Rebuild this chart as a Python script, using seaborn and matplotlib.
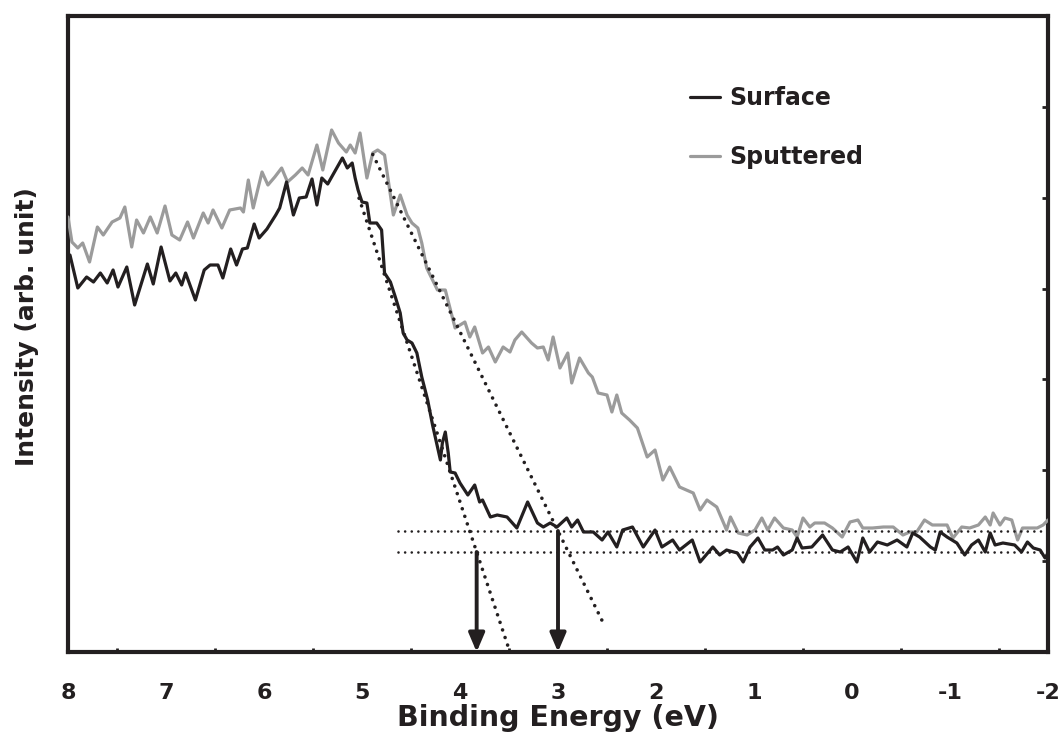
import numpy as np
import pandas as pd
import matplotlib
matplotlib.use("Agg")
import matplotlib.pyplot as plt
import seaborn as sns

# ---------------------------------------------------------------------------
# Valence-band spectra: binding energy (eV) and intensity (counts, arb. unit)
# ---------------------------------------------------------------------------
surface_be = [8.00, 7.98, 7.90, 7.81, 7.74, 7.67, 7.60, 7.54, 7.49, 7.40,
              7.32, 7.19, 7.13, 7.05, 6.96, 6.90, 6.84, 6.80, 6.70, 6.61,
              6.55, 6.47, 6.42, 6.34, 6.28, 6.22, 6.17, 6.10, 6.05, 5.97,
              5.88, 5.84, 5.77, 5.70, 5.64, 5.57, 5.51, 5.46, 5.41, 5.35,
              5.20, 5.15, 5.10, 5.07, 5.04, 5.00, 4.95, 4.92, 4.85, 4.80,
              4.77, 4.71, 4.66, 4.61, 4.58, 4.54, 4.49, 4.44, 4.39, 4.33,
              4.28, 4.23, 4.20, 4.18, 4.15, 4.12, 4.10, 4.05, 4.00, 3.92,
              3.85, 3.80, 3.77, 3.69, 3.62, 3.52, 3.42, 3.31, 3.21, 3.15,
              3.08, 3.01, 2.91, 2.86, 2.80, 2.74, 2.64, 2.55, 2.49, 2.40,
              2.34, 2.24, 2.13, 2.01, 1.94, 1.83, 1.76, 1.63, 1.55, 1.42,
              1.35, 1.28, 1.17, 1.11, 1.04, 0.96, 0.89, 0.81, 0.76, 0.70,
              0.61, 0.56, 0.51, 0.41, 0.30, 0.20, 0.12, 0.04, -0.05, -0.11,
              -0.18, -0.26, -0.36, -0.46, -0.56, -0.62, -0.69, -0.80, -0.85, -0.90,
              -0.97, -1.07, -1.15, -1.22, -1.29, -1.36, -1.41, -1.46, -1.54, -1.66,
              -1.73, -1.79, -1.85, -1.92, -1.97, -2.00]
surface_int = [395, 397, 364, 375, 370, 379, 369, 382, 365, 385,
               347, 388, 368, 405, 371, 379, 367, 379, 352, 382,
               387, 387, 374, 403, 387, 403, 404, 428, 414, 423,
               437, 444, 470, 437, 454, 455, 473, 447, 474, 468,
               494, 484, 489, 474, 462, 450, 449, 429, 429, 422,
               379, 370, 355, 339, 319, 312, 309, 299, 275, 252,
               227, 205, 192, 209, 220, 199, 180, 179, 169, 157,
               167, 150, 152, 135, 137, 135, 124, 150, 129, 125,
               129, 125, 134, 125, 132, 120, 120, 112, 120, 105,
               122, 125, 105, 122, 105, 112, 102, 112, 90, 105,
               97, 102, 99, 90, 105, 114, 102, 102, 105, 97,
               102, 114, 104, 105, 117, 102, 100, 105, 90, 114,
               100, 110, 107, 112, 105, 119, 115, 105, 102, 120,
               115, 109, 97, 107, 112, 100, 119, 107, 109, 107,
               100, 110, 104, 102, 94, 99]

sputtered_be = [8.00, 7.96, 7.90, 7.85, 7.78, 7.70, 7.64, 7.55, 7.47, 7.42,
                7.35, 7.30, 7.23, 7.16, 7.09, 7.01, 6.94, 6.86, 6.78, 6.72,
                6.62, 6.57, 6.52, 6.43, 6.35, 6.24, 6.21, 6.16, 6.11, 6.02,
                5.96, 5.89, 5.82, 5.76, 5.68, 5.61, 5.55, 5.46, 5.40, 5.31,
                5.24, 5.16, 5.12, 5.07, 5.02, 4.95, 4.89, 4.84, 4.77, 4.68,
                4.61, 4.54, 4.49, 4.43, 4.39, 4.34, 4.23, 4.15, 4.05, 3.95,
                3.90, 3.85, 3.77, 3.71, 3.64, 3.56, 3.49, 3.44, 3.37, 3.27,
                3.21, 3.15, 3.10, 3.05, 2.98, 2.90, 2.86, 2.78, 2.69, 2.65,
                2.59, 2.50, 2.45, 2.40, 2.35, 2.27, 2.19, 2.09, 2.01, 1.93,
                1.86, 1.76, 1.62, 1.55, 1.48, 1.38, 1.28, 1.24, 1.16, 1.07,
                0.99, 0.92, 0.86, 0.79, 0.70, 0.61, 0.56, 0.50, 0.43, 0.38,
                0.28, 0.20, 0.10, 0.02, -0.06, -0.11, -0.21, -0.32, -0.42, -0.52,
                -0.59, -0.66, -0.74, -0.82, -0.88, -0.97, -1.03, -1.12, -1.20, -1.29,
                -1.36, -1.41, -1.44, -1.51, -1.56, -1.63, -1.69, -1.74, -1.82, -1.89,
                -1.95, -2.00]
sputtered_int = [435, 410, 404, 409, 390, 425, 417, 430, 434, 445,
                 405, 432, 419, 435, 419, 446, 417, 412, 430, 414,
                 439, 429, 442, 424, 442, 444, 440, 472, 444, 480,
                 467, 475, 484, 470, 477, 484, 477, 507, 482, 522,
                 509, 500, 507, 499, 519, 474, 499, 502, 497, 437,
                 457, 437, 429, 424, 409, 384, 362, 362, 324, 330,
                 315, 325, 299, 305, 290, 305, 300, 312, 320, 309,
                 304, 305, 292, 315, 284, 299, 269, 294, 279, 275,
                 259, 257, 240, 257, 239, 232, 224, 195, 202, 172,
                 185, 165, 159, 142, 152, 145, 122, 135, 119, 117,
                 122, 134, 122, 134, 124, 122, 115, 134, 125, 129,
                 129, 124, 115, 130, 132, 124, 124, 125, 125, 117,
                 120, 120, 132, 127, 127, 127, 114, 125, 124, 127,
                 135, 127, 139, 127, 134, 132, 112, 124, 124, 124,
                 127, 132]

# Leading-edge extrapolation: onset energy, background level, edge slope
surface_onset = 3.83
sputtered_onset = 3.00
surface_background = 100
sputtered_background = 121
surface_slope = 294.8      # counts per eV
sputtered_slope = 199.2    # counts per eV
surface_edge_range = (5.03, 3.45)
sputtered_edge_range = (4.89, 2.52)
background_range = (4.63, -1.97)

x_ticks = [8, 7, 6, 5, 4, 3, 2, 1, 0, -1, -2]
x_minor = [7.5, 6.5, 5.5, 4.5, 3.5, 2.5, 1.5, 0.5, -0.5, -1.5]
y_max = 636
n_y_ticks = 8

INK = "#231f20"
GREY = "#9b9b9b"

sns.set_theme(style="white")
plt.rcParams["font.family"] = ["DejaVu Sans"]
plt.rcParams["font.weight"] = "bold"

fig = plt.figure(figsize=(10.6, 7.43), dpi=100)
ax = fig.add_axes([68 / 1060, 91 / 743, 980 / 1060, 636 / 743])

surface = pd.DataFrame({"be": surface_be, "intensity": surface_int})
sputtered = pd.DataFrame({"be": sputtered_be, "intensity": sputtered_int})

sns.lineplot(data=surface, x="be", y="intensity", ax=ax, color=INK,
             linewidth=2.3, sort=False, label="Surface", zorder=4,
             solid_joinstyle="round")
sns.lineplot(data=sputtered, x="be", y="intensity", ax=ax, color=GREY,
             linewidth=2.3, sort=False, label="Sputtered", zorder=3,
             solid_joinstyle="round")

# Extrapolated leading edges
def edge(onset, background, slope, rng):
    e = np.array(rng, dtype=float)
    return e, background + slope * (e - onset)

for onset, bg, slope, rng in [(surface_onset, surface_background, surface_slope, surface_edge_range),
                              (sputtered_onset, sputtered_background, sputtered_slope, sputtered_edge_range)]:
    e, y = edge(onset, bg, slope, rng)
    ax.plot(e, y, color=INK, linewidth=2.6, linestyle=(0, (0.01, 2.2)),
            dash_capstyle="round", zorder=5)

# Background levels
for bg in (surface_background, sputtered_background):
    ax.plot(background_range, [bg, bg], color=INK, linewidth=1.9,
            linestyle=(0, (0.01, 2.5)), dash_capstyle="round", zorder=5)

# Onset arrows
for onset, bg in ((surface_onset, surface_background),
                  (sputtered_onset, sputtered_background)):
    ax.annotate("", xy=(onset, 0), xytext=(onset, bg),
                arrowprops=dict(arrowstyle="-|>,head_length=0.75,head_width=0.32",
                                color=INK, lw=2.8, shrinkA=0, shrinkB=0,
                                mutation_scale=15),
                zorder=6, annotation_clip=False)

ax.set_xlim(8, -2)
ax.set_ylim(0, y_max)
ax.set_xticks(x_ticks)
ax.set_xticklabels([str(t) for t in x_ticks])
ax.set_xticks(x_minor, minor=True)
ax.set_yticks(np.linspace(0, y_max, n_y_ticks))
ax.yaxis.tick_right()
ax.tick_params(axis="y", which="both", direction="in", length=4, width=2,
               color=INK, labelright=False, labelleft=False, left=False, right=True)
ax.tick_params(axis="x", which="major", direction="in", length=5, width=2,
               color=INK, labelsize=16, labelcolor=INK, pad=22, top=False)
ax.tick_params(axis="x", which="minor", direction="in", length=3, width=2,
               color=INK, bottom=True, top=False)
for lab in ax.get_xticklabels():
    lab.set_fontweight("bold")

for sp in ax.spines.values():
    sp.set_visible(True)
    sp.set_linewidth(3.0)
    sp.set_color(INK)

ax.set_xlabel("Binding Energy (eV)", fontsize=20.5, fontweight="bold", color=INK)
ax.set_ylabel("Intensity (arb. unit)", fontsize=18, fontweight="bold", color=INK)
ax.xaxis.label.set_va("center")
ax.xaxis.set_label_coords(0.5, -66 / 636)
ax.yaxis.label.set_va("center")
ax.yaxis.set_label_coords(-41 / 980, 0.511)

leg = ax.legend(loc="upper left", bbox_to_anchor=(622 / 980, 1 - 70 / 636),
                frameon=False, fontsize=17, handlelength=1.25, handletextpad=0.4,
                labelspacing=1.5, borderpad=0, borderaxespad=0)
for t in leg.get_texts():
    t.set_color(INK)
    t.set_fontweight("bold")
for h in leg.get_lines():
    h.set_linewidth(2.3)

fig.savefig("out.png", dpi=100)
